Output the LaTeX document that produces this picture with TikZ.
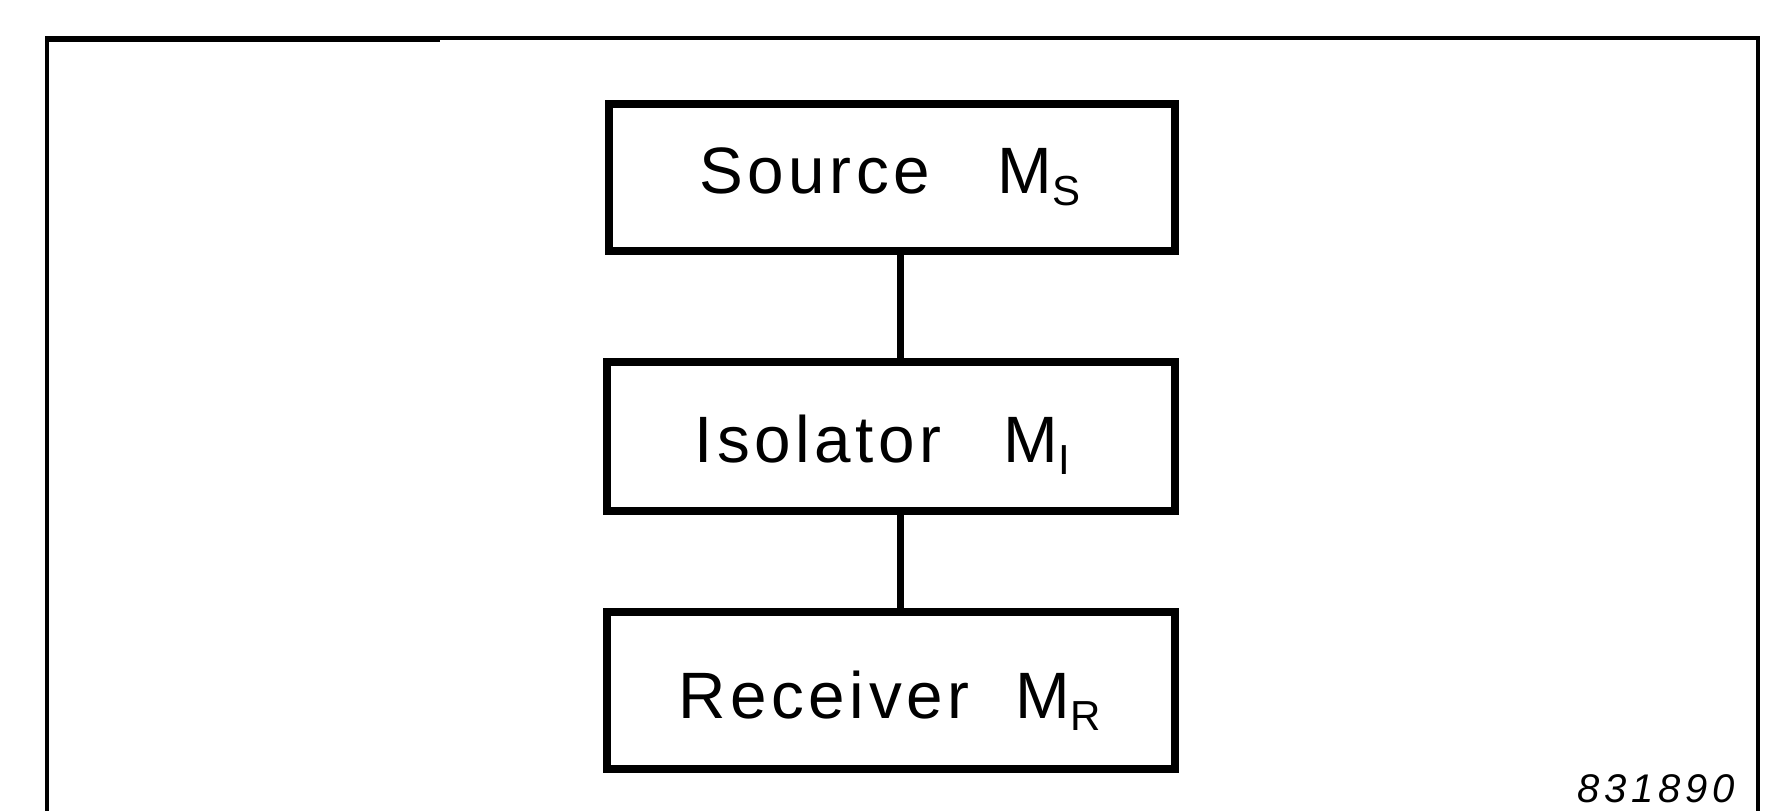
\documentclass[tikz,border=0pt]{standalone}
\usepackage{fontspec}
\newfontfamily\lblfont[LetterSpace=7]{Liberation Sans}
\newfontfamily\numfont[LetterSpace=12]{Liberation Sans}
\newcommand\subx[1]{\raisebox{-6pt}{\fontsize{21}{21}\selectfont #1}}
\tikzset{
  blk/.style={draw, rectangle, line width=4pt, fill=white, inner sep=0pt},
  lbl/.style={inner sep=0pt, anchor=base west, font=\lblfont\fontsize{32.8}{36}\selectfont},
  conn/.style={line width=3.5pt},
  frameline/.style={line width=2.2pt},
  numlbl/.style={inner sep=0pt, anchor=base west, font=\numfont\itshape\fontsize{20}{21}\selectfont}
}
\begin{document}
\begin{tikzpicture}[x=0.5pt,y=-0.5pt]
\useasboundingbox (0,0) rectangle (1768,810);
\clip (0,0) rectangle (1768,810);
\fill[white] (0,0) rectangle (1768,810);
% outer frame (open at the bottom)
\draw[frameline] (47,815) -- (47,38) -- (1758,38) -- (1758,815);
\draw[line width=3pt] (46,38.5) -- (440,38.5);
% boxes
\node[blk, minimum width=283pt, minimum height=73.5pt] (src) at (892,177.5) {};
\node[blk, minimum width=284pt, minimum height=74.5pt] (iso) at (891,436.5) {};
\node[blk, minimum width=284pt, minimum height=78.5pt] (rcv) at (891,690.5) {};
% connectors
\draw[conn] ([xshift=4pt]src.south) -- ([xshift=4.5pt]iso.north);
\draw[conn] ([xshift=4.5pt]iso.south) -- ([xshift=4.5pt]rcv.north);
% labels
\node[lbl] (srct) at (699,193) {\makebox[149pt][l]{Source}M\subx{S}};
\node[lbl] (isot) at (694,462) {\makebox[154.5pt][l]{Isolator}M\subx{I}};
\node[lbl] (rcvt) at (678,718) {\makebox[168.5pt][l]{Receiver}M\subx{R}};
\node[numlbl] (num) at (1577,802) {831890};
\end{tikzpicture}
\end{document}
